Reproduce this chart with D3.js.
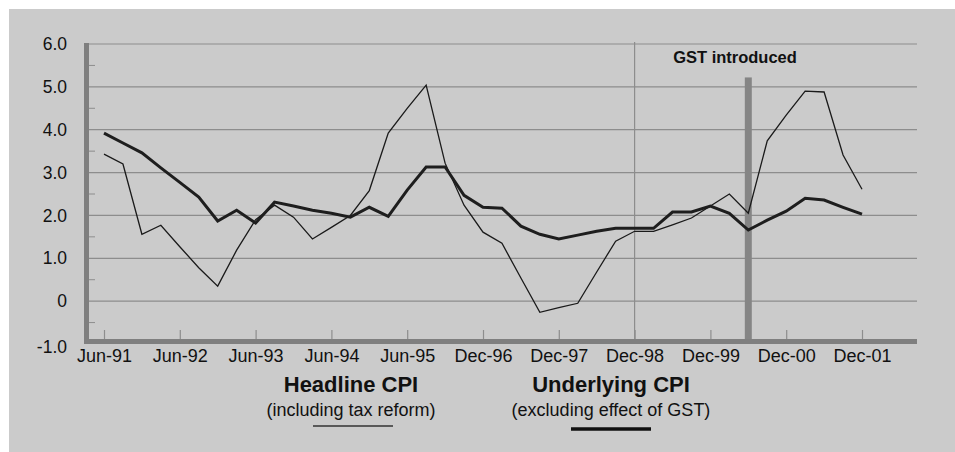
<!DOCTYPE html>
<html>
<head>
<meta charset="utf-8">
<script src="https://cdn.jsdelivr.net/npm/d3@7"></script>
<style>
  html, body { margin: 0; padding: 0; background: #ffffff; }
  svg { display: block; font-family: "Liberation Sans", Arial, sans-serif; }
</style>
</head>
<body>
<svg id="chart" width="955" height="452"></svg>
<script>
// quarterly observations, Jun-91 onwards (index = quarter number)
const quarters = d3.range(41);

const headline = [3.43, 3.20, 1.56, 1.77, 1.27, 0.78, 0.35, 1.19, 1.90, 2.24,
  1.96, 1.45, 1.72, 2.00, 2.58, 3.92, 4.50, 5.04, 3.22, 2.24,
  1.61, 1.35, 0.54, -0.26, -0.15, -0.05, 0.68, 1.40, 1.63, 1.63,
  1.78, 1.94, 2.22, 2.50, 2.05, 3.74, 4.34, 4.90, 4.88, 3.41, 2.61];

const underlying = [3.92, 3.69, 3.46, 3.11, 2.77, 2.43, 1.87, 2.12, 1.82, 2.31,
  2.22, 2.12, 2.05, 1.96, 2.19, 1.98, 2.59, 3.13, 3.13, 2.47,
  2.19, 2.17, 1.75, 1.56, 1.45, 1.54, 1.63, 1.70, 1.70, 1.70,
  2.08, 2.08, 2.22, 2.05, 1.66, 1.89, 2.10, 2.40, 2.36, 2.19, 2.03];

const tickIndex = [0, 4, 8, 12, 16, 20, 24, 28, 32, 36, 40];
const tickLabels = ["Jun-91", "Jun-92", "Jun-93", "Jun-94", "Jun-95", "Dec-96",
  "Dec-97", "Dec-98", "Dec-99", "Dec-00", "Dec-01"];

const yTicks = [-1, 0, 1, 2, 3, 4, 5, 6];
const yTickLabels = ["-1.0", "0", "1.0", "2.0", "3.0", "4.0", "5.0", "6.0"];
const yMinor = [-0.5, 0.5, 1.5, 2.5, 3.5, 4.5, 5.5];

const dec98Index = 28;   // thin vertical marker
const gstIndex = 34;     // GST introduced bar
const gstTop = 5.22;

const svg = d3.select("#chart");
const W = 955, H = 452;

// panel
svg.append("rect")
  .attr("x", 9).attr("y", 9)
  .attr("width", W - 9).attr("height", H - 9)
  .attr("fill", "#cbcbcb");

const plotLeft = 87, plotRight = 917;

const x = d3.scalePoint()
  .domain(quarters)
  .range([104, 862]);

const y = d3.scaleLinear()
  .domain([-1, 6])
  .range([344, 44]);

const gridColor = "#8d8d8d";
const axisColor = "#7f7f7f";

// horizontal grid
svg.append("g")
  .selectAll("line")
  .data(yTicks.filter(d => d > -1))
  .enter()
  .append("line")
  .attr("x1", plotLeft).attr("x2", plotRight)
  .attr("y1", d => y(d)).attr("y2", d => y(d))
  .attr("stroke", gridColor)
  .attr("stroke-width", 1.2);

// minor ticks on left axis
svg.append("g")
  .selectAll("line")
  .data(yMinor)
  .enter()
  .append("line")
  .attr("x1", plotLeft).attr("x2", plotLeft + 8)
  .attr("y1", d => y(d)).attr("y2", d => y(d))
  .attr("stroke", gridColor)
  .attr("stroke-width", 1);

// Dec-98 vertical line
svg.append("line")
  .attr("x1", x(dec98Index)).attr("x2", x(dec98Index))
  .attr("y1", y(6) - 2).attr("y2", y(-1))
  .attr("stroke", gridColor)
  .attr("stroke-width", 1.2);

// GST bar
svg.append("rect")
  .attr("x", x(gstIndex) - 3.5)
  .attr("y", y(gstTop))
  .attr("width", 7)
  .attr("height", y(-1) - y(gstTop))
  .attr("fill", "#858585");

svg.append("text")
  .attr("x", 735)
  .attr("y", 63)
  .attr("text-anchor", "middle")
  .attr("font-size", 16.5)
  .attr("font-weight", "bold")
  .attr("fill", "#111")
  .text("GST introduced");

// bottom axis
const xAxis = svg.append("g")
  .attr("transform", `translate(0,${y(-1) - 4})`)
  .call(d3.axisBottom(x)
    .tickValues(tickIndex)
    .tickSize(-10)
    .tickPadding(9)
    .tickFormat((d, i) => tickLabels[i]));
xAxis.select(".domain").remove();
xAxis.selectAll(".tick line").attr("stroke", gridColor).attr("stroke-width", 1.2);
xAxis.selectAll(".tick text")
  .attr("font-size", 18)
  .attr("font-family", "Liberation Sans, Arial, sans-serif")
  .attr("fill", "#111");

// left axis labels
const yAxis = svg.append("g")
  .attr("transform", `translate(${plotLeft},0)`)
  .call(d3.axisLeft(y)
    .tickValues(yTicks)
    .tickSize(0)
    .tickPadding(20)
    .tickFormat((d, i) => yTickLabels[i]));
yAxis.select(".domain").remove();
yAxis.selectAll(".tick text")
  .attr("font-size", 17.5)
  .attr("font-family", "Liberation Sans, Arial, sans-serif")
  .attr("fill", "#111");
yAxis.selectAll(".tick")
  .filter(d => d === -1)
  .select("text")
  .attr("dy", "0.5em");

// axis bars
svg.append("rect")
  .attr("x", plotLeft - 3).attr("y", y(6) - 1)
  .attr("width", 5).attr("height", y(-1) - y(6) + 1)
  .attr("fill", axisColor);
svg.append("rect")
  .attr("x", plotLeft - 3).attr("y", y(-1) - 5)
  .attr("width", plotRight - plotLeft + 3).attr("height", 5)
  .attr("fill", axisColor);

// series
const line = d3.line()
  .x((d, i) => x(quarters[i]))
  .y(d => y(d));

svg.append("path")
  .attr("d", line(headline))
  .attr("fill", "none")
  .attr("stroke", "#1a1a1a")
  .attr("stroke-width", 1.3)
  .attr("stroke-linejoin", "miter");

svg.append("path")
  .attr("d", line(underlying))
  .attr("fill", "none")
  .attr("stroke", "#1e1e1e")
  .attr("stroke-width", 3)
  .attr("stroke-linejoin", "miter");

// legend
const legend = [
  { title: "Headline CPI", sub: "(including tax reform)", cx: 351, x1: 313, x2: 393, ly: 426, w: 1.6, c: "#333" },
  { title: "Underlying CPI", sub: "(excluding effect of GST)", cx: 611, x1: 571, x2: 651, ly: 429, w: 3.5, c: "#111" }
];

const lg = svg.append("g");
legend.forEach(d => {
  lg.append("text")
    .attr("x", d.cx).attr("y", 392)
    .attr("text-anchor", "middle")
    .attr("font-size", 22)
    .attr("font-weight", "bold")
    .attr("fill", "#111")
    .text(d.title);
  lg.append("text")
    .attr("x", d.cx).attr("y", 416)
    .attr("text-anchor", "middle")
    .attr("font-size", 18)
    .attr("fill", "#111")
    .text(d.sub);
  lg.append("line")
    .attr("x1", d.x1).attr("x2", d.x2)
    .attr("y1", d.ly).attr("y2", d.ly)
    .attr("stroke", d.c)
    .attr("stroke-width", d.w);
});
</script>
</body>
</html>
